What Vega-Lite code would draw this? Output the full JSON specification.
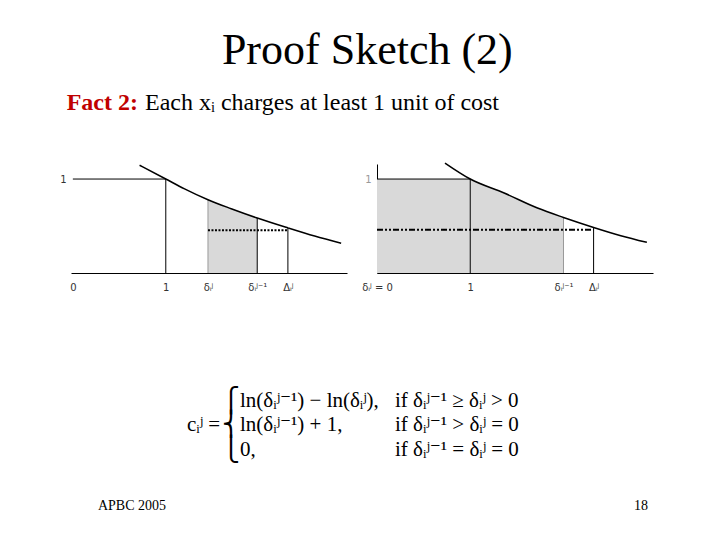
{
  "$schema": "https://vega.github.io/schema/vega-lite/v6.json",
  "background": "white",
  "padding": {"left": 59, "top": 29, "right": 5, "bottom": 5},
  "autosize": {"type": "pad"},
  "bounds": "flush",
  "spacing": 24,
  "title": {"text": "Proof Sketch (2)", "font": "Liberation Serif", "fontSize": 44, "fontWeight": "normal", "color": "black", "anchor": "middle", "offset": -8, "dx": 7},
  "config": {"view": {"stroke": null}},
  "vconcat": [
    {
      "width": 142,
      "height": 75,
      "layer": [
        {
          "data": {"values": [{"text": "Fact 2:"}]},
          "mark": {"type": "text", "align": "right", "baseline": "middle", "dx": -4, "font": "Liberation Serif", "fontSize": 24, "fontWeight": "bold", "color": "#c00000"},
          "encoding": {"text": {"field": "text"}}
        },
        {
          "data": {"values": [{"text": "Each xᵢ charges at least 1 unit of cost"}]},
          "mark": {"type": "text", "align": "left", "baseline": "middle", "dx": 3, "font": "Liberation Serif", "fontSize": 24, "color": "black"},
          "encoding": {"text": {"field": "text"}}
        }
      ]
    },
    {
      "hconcat": [
        {
          "width": 276,
          "height": 109,
          "encoding": {
            "x": {"field": "x", "type": "quantitative", "scale": {"domain": [-0.02, 2.95], "nice": false, "zero": false},
              "axis": {"values": [0, 1, 1.454, 1.984, 2.314], "labelExpr": "datum.value == 0 ? '0' : datum.value == 1 ? '1' : datum.value < 1.7 ? 'δᵢʲ' : datum.value < 2.1 ? 'δᵢʲ⁻¹' : 'Δᵢʲ'", "title": null, "grid": false, "ticks": false, "tickSize": 0, "domainColor": "black", "labelFont": "DejaVu Sans", "labelFontSize": 10, "labelColor": "#333", "labelPadding": 9, "labelFlush": false, "labelOverlap": false}},
            "y": {"field": "y", "type": "quantitative", "scale": {"domain": [0, 1.16], "nice": false},
              "axis": {"values": [1], "domain": false, "ticks": false, "tickSize": 0, "grid": false, "title": null, "labelPadding": 5, "labelFont": "DejaVu Sans", "labelFontSize": 10, "labelColor": "#333"}}
          },
          "layer": [
            {
              "data": {"values": [{"x": 1.454, "y": 0.779}, {"x": 1.704, "y": 0.684}, {"x": 1.984, "y": 0.585}]},
              "mark": {"type": "area", "interpolate": "monotone", "color": "#d9d9d9"}
            },
            {
              "data": {"values": [{"x": 1.454, "y": 0, "y2": 0.779}]},
              "mark": {"type": "rule", "color": "#999999", "strokeWidth": 1},
              "encoding": {"y2": {"field": "y2"}}
            },
            {
              "data": {"values": [{"x": 1, "y": 0, "y2": 1}, {"x": 1.984, "y": 0, "y2": 0.585}, {"x": 2.314, "y": 0, "y2": 0.48}]},
              "mark": {"type": "rule", "color": "black", "strokeWidth": 1},
              "encoding": {"y2": {"field": "y2"}}
            },
            {
              "data": {"values": [{"x": 0, "x2": 1, "y": 1}]},
              "mark": {"type": "rule", "color": "black", "strokeWidth": 1},
              "encoding": {"x2": {"field": "x2"}}
            },
            {
              "data": {"values": [{"x": 1.454, "x2": 2.314, "y": 0.456}]},
              "mark": {"type": "rule", "color": "black", "strokeWidth": 2, "strokeDash": [2, 1.5]},
              "encoding": {"x2": {"field": "x2"}}
            },
            {
              "data": {"values": [{"x": 0.718, "y": 1.147}, {"x": 1, "y": 1}, {"x": 1.202, "y": 0.895}, {"x": 1.454, "y": 0.779}, {"x": 1.704, "y": 0.684}, {"x": 1.984, "y": 0.585}, {"x": 2.314, "y": 0.48}, {"x": 2.602, "y": 0.393}, {"x": 2.887, "y": 0.316}]},
              "mark": {"type": "line", "interpolate": "monotone", "color": "black", "strokeWidth": 1.5}
            }
          ]
        },
        {
          "width": 276,
          "height": 109,
          "encoding": {
            "x": {"field": "x", "type": "quantitative", "scale": {"domain": [0, 2.96], "nice": false, "zero": false},
              "axis": {"values": [0, 1, 2.0, 2.323], "labelExpr": "datum.value == 0 ? 'δᵢʲ = 0' : datum.value == 1 ? '1' : datum.value < 2.1 ? 'δᵢʲ⁻¹' : 'Δᵢʲ'", "title": null, "grid": false, "ticks": false, "tickSize": 0, "domainColor": "black", "labelFont": "DejaVu Sans", "labelFontSize": 10, "labelColor": "#333", "labelPadding": 9, "labelFlush": false, "labelOverlap": false}},
            "y": {"field": "y", "type": "quantitative", "scale": {"domain": [0, 1.16], "nice": false},
              "axis": {"values": [1], "domain": true, "domainColor": "black", "ticks": false, "tickSize": 0, "grid": false, "title": null, "labelPadding": 6, "labelFont": "DejaVu Sans", "labelFontSize": 10, "labelColor": "#999999"}}
          },
          "layer": [
            {
              "data": {"values": [{"x": 0, "x2": 1, "y": 0, "y2": 1}]},
              "mark": {"type": "rect", "color": "#d9d9d9"},
              "encoding": {"x2": {"field": "x2"}, "y2": {"field": "y2"}}
            },
            {
              "data": {"values": [{"x": 1, "y": 1}, {"x": 1.364, "y": 0.851}, {"x": 1.721, "y": 0.691}, {"x": 2.0, "y": 0.591}]},
              "mark": {"type": "area", "interpolate": "monotone", "color": "#d9d9d9"}
            },
            {
              "data": {"values": [{"x": 2.0, "y": 0, "y2": 0.591}]},
              "mark": {"type": "rule", "color": "#999999", "strokeWidth": 1},
              "encoding": {"y2": {"field": "y2"}}
            },
            {
              "data": {"values": [{"x": 1, "y": 0, "y2": 1}, {"x": 2.323, "y": 0, "y2": 0.485}]},
              "mark": {"type": "rule", "color": "black", "strokeWidth": 1},
              "encoding": {"y2": {"field": "y2"}}
            },
            {
              "data": {"values": [{"x": 0, "x2": 1, "y": 1}]},
              "mark": {"type": "rule", "color": "black", "strokeWidth": 1},
              "encoding": {"x2": {"field": "x2"}}
            },
            {
              "data": {"values": [{"x": 0, "x2": 2.323, "y": 0.46}]},
              "mark": {"type": "rule", "color": "black", "strokeWidth": 2, "strokeDash": [6, 2, 2, 2, 2, 2]},
              "encoding": {"x2": {"field": "x2"}}
            },
            {
              "data": {"values": [{"x": 0.729, "y": 1.17}, {"x": 1, "y": 1.0}, {"x": 1.364, "y": 0.851}, {"x": 1.721, "y": 0.691}, {"x": 2.0, "y": 0.591}, {"x": 2.323, "y": 0.485}, {"x": 2.615, "y": 0.397}, {"x": 2.894, "y": 0.326}]},
              "mark": {"type": "line", "interpolate": "monotone", "color": "black", "strokeWidth": 1.5}
            }
          ]
        }
      ],
      "spacing": 30,
      "bounds": "flush"
    },
    {
      "width": 590,
      "height": 289,
      "encoding": {
        "x": {"field": "col", "type": "quantitative", "scale": {"domain": [1, 2], "range": [169, 324], "nice": false, "zero": false}, "axis": null},
        "y": {"field": "line", "type": "quantitative", "scale": {"domain": [1, 3], "range": [212.7, 261.7], "nice": false, "zero": false}, "axis": null},
        "text": {"field": "text"}
      },
      "layer": [
        {
          "data": {"values": [
            {"line": 1, "col": 1, "text": "ln(δᵢʲ⁻¹) − ln(δᵢʲ),"},
            {"line": 1, "col": 2, "text": "if δᵢʲ⁻¹ ≥ δᵢʲ > 0"},
            {"line": 2, "col": 1, "text": "ln(δᵢʲ⁻¹) + 1,"},
            {"line": 2, "col": 2, "text": "if δᵢʲ⁻¹ > δᵢʲ = 0"},
            {"line": 3, "col": 1, "text": "0,"},
            {"line": 3, "col": 2, "text": "if δᵢʲ⁻¹ = δᵢʲ = 0"}
          ]},
          "mark": {"type": "text", "align": "left", "baseline": "middle", "font": "Liberation Serif, DejaVu Serif", "fontSize": 21, "color": "black"}
        },
        {
          "data": {"values": [
            {"line": 1, "col": 1, "text": ["⎧", "⎨", "⎩"]}
          ]},
          "mark": {"type": "text", "align": "center", "baseline": "middle", "dx": -9, "font": "DejaVu Sans", "fontSize": 24, "lineHeight": 24.5, "color": "black"}
        },
        {
          "data": {"values": [{"line": 2, "col": 1, "text": "cᵢʲ ="}]},
          "mark": {"type": "text", "align": "right", "baseline": "middle", "dx": -20, "font": "Liberation Serif, DejaVu Serif", "fontSize": 21, "color": "black"}
        }
      ]
    },
    {
      "width": 590,
      "height": 10,
      "data": {"values": [{"side": "left", "text": "APBC 2005"}, {"side": "right", "text": "18"}]},
      "mark": {"type": "text", "align": "center", "baseline": "middle", "font": "Liberation Serif", "fontSize": 14, "color": "black"},
      "encoding": {
        "x": {"field": "side", "type": "nominal", "scale": {"type": "point", "domain": ["left", "right"], "range": [61, 570], "padding": 0}, "axis": null},
        "text": {"field": "text"}
      }
    }
  ]
}
